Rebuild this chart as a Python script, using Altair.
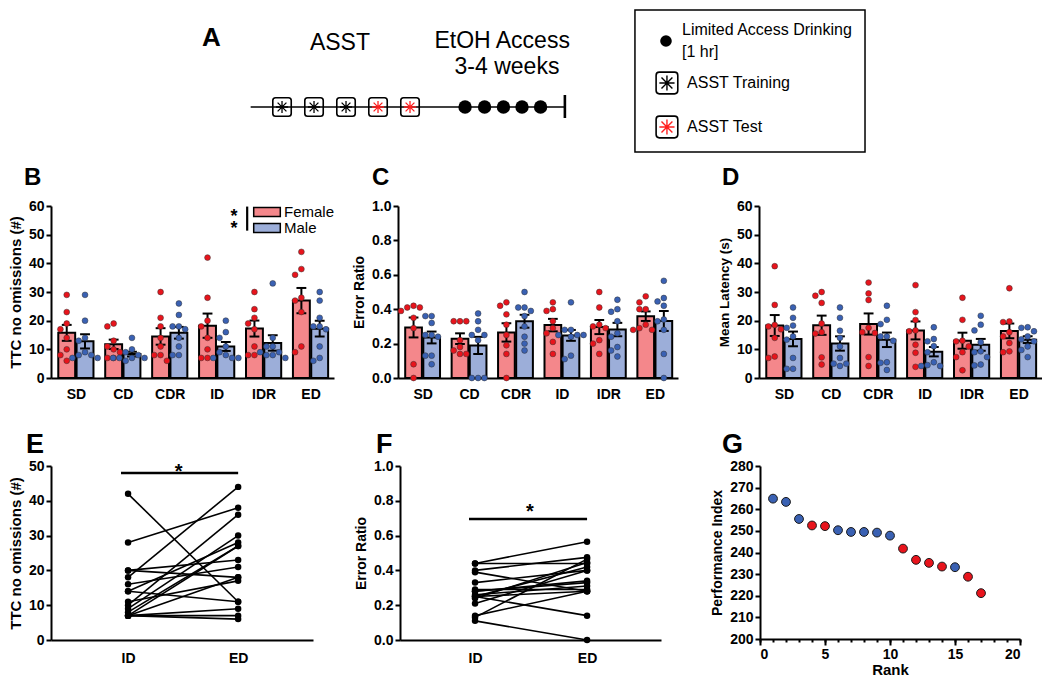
import json
import numpy as np
import pandas as pd
import altair as alt

FONT = "Liberation Sans"
RED_DOT, BLUE_DOT = "#E8141C", "#3A61B3"
RED_BAR, BLUE_BAR = "#F4878B", "#9CAED9"
STAR_RED = "#FF1F1F"

# ---------------- values ----------------
categories = ["SD", "CD", "CDR", "ID", "IDR", "ED"]
sexes = ["Female", "Male"]

# TTC no omissions (#), one list per category (animals in the same order for ID and ED)
ttc_female = [
    [29, 23, 19, 17, 14, 10, 8, 6],
    [19, 18, 13, 11, 10, 9, 7, 7],
    [30, 21, 18, 14, 11, 8, 8, 6],
    [42, 28, 20, 18, 14, 10, 7, 7],
    [30, 24, 21, 19, 17, 11, 8, 8],
    [11, 38, 23, 44, 28, 36, 27, 9],
]
ttc_male = [
    [29, 20, 14, 13, 9, 8, 8, 7, 7],
    [14, 10, 9, 8, 7, 7, 7, 7, 6],
    [26, 22, 18, 18, 17, 14, 11, 8, 8],
    [20, 16, 14, 11, 9, 8, 7, 7, 7],
    [33, 14, 11, 11, 9, 9, 8, 8, 7],
    [18, 21, 11, 17, 30, 27, 18, 7, 6],
]
# Error ratio
err_female = [
    [0.42, 0.41, 0.41, 0.39, 0.35, 0.29, 0.08, 0.0],
    [0.33, 0.33, 0.33, 0.22, 0.18, 0.16, 0.14, 0.14],
    [0.44, 0.42, 0.37, 0.31, 0.25, 0.19, 0.14, 0.0],
    [0.44, 0.40, 0.39, 0.33, 0.29, 0.26, 0.21, 0.14],
    [0.50, 0.41, 0.31, 0.30, 0.29, 0.22, 0.20, 0.14],
    [0.44, 0.475, 0.28, 0.40, 0.29, 0.31, 0.40, 0.28],
]
err_male = [
    [0.36, 0.36, 0.32, 0.25, 0.25, 0.24, 0.13, 0.13, 0.08],
    [0.375, 0.33, 0.28, 0.25, 0.25, 0.22, 0.0, 0.0, 0.0],
    [0.50, 0.41, 0.41, 0.39, 0.36, 0.30, 0.24, 0.20, 0.16],
    [0.44, 0.28, 0.28, 0.25, 0.25, 0.25, 0.24, 0.13, 0.11],
    [0.455, 0.40, 0.385, 0.33, 0.26, 0.24, 0.18, 0.16, 0.125],
    [0.565, 0.34, 0.33, 0.14, 0.42, 0.28, 0.445, 0.465, 0.0],
]
# Mean latency (s)
lat_female = [
    [39, 25.5, 18.5, 18, 17, 14, 7.5, 7],
    [30, 28.7, 26.2, 19, 16, 15.5, 7.2, 4.7],
    [33.3, 29.5, 27.2, 17.5, 16, 15.7, 7.3, 4.2],
    [32.4, 23, 20.2, 16.6, 16.3, 11.6, 8.8, 3.9],
    [28, 20.3, 13, 12.8, 11, 9, 7.3, 2.7],
    [31.3, 19.7, 19.5, 16, 14.5, 12.2, 9.3, 9],
]
lat_male = [
    [24.6, 21, 18.3, 17.5, 14.5, 13.4, 7, 3.2, 3.2],
    [24.6, 21, 16.5, 14, 11, 7, 5, 5, 4.2],
    [25.2, 20.3, 18.8, 14.5, 14.5, 13, 5.5, 5.3, 2.8],
    [17.7, 13.6, 12.8, 11.1, 9, 5.5, 4.5, 4.2, 4.2],
    [21.7, 18.6, 16.6, 12.5, 9.3, 9, 7.3, 4.7, 4.4],
    [17.7, 17.5, 16.3, 14.5, 13.5, 12.8, 11, 9.8, 7.3],
]
stages = ["ID", "ED"]

rank = list(range(1, 18))
perf_index = [264.9, 263.4, 255.5, 252.5, 252.2, 250.3, 249.5, 249.5, 249.2,
              247.8, 241.8, 236.6, 235.2, 233.5, 233.2, 228.8, 221.2]
rank_sex = ["Male", "Male", "Male", "Female", "Female", "Male", "Male", "Male",
            "Male", "Male", "Female", "Female", "Female", "Female", "Male",
            "Female", "Female"]

asst_sessions = ["Training", "Training", "Training", "Test", "Test"]
drinking_sessions = ["Drinking"] * 5
legend_lines = ["Limited Access Drinking", "[1 hr]", "ASST Training", "ASST Test"]

# ---------------- layout / style constants ----------------
BAR_OFF, BAR_HALF, CAP_HALF = 0.195, 0.18, 0.105
XDOM_BAR = [-0.53, 5.5]
DOT_D = 6.3
DOT_SIZE = 34


def letter_layer(letter, size, dx, dy):
    return alt.Chart(pd.DataFrame({"t": [letter]})).mark_text(
        fontSize=size, fontWeight="bold", font=FONT, color="black", align="left",
        baseline="alphabetic").encode(x=alt.value(dx), y=alt.value(dy), text="t:N")


def beeswarm(vals, ppx, ppy, d):
    vals = list(vals)
    order = sorted(range(len(vals)), key=lambda i: -vals[i])
    placed, out = [], [0.0] * len(vals)
    for i in order:
        yp = vals[i] * ppy
        xp = 0.0
        for k in (0, -1, 1, -2, 2, -3, 3):
            xp = k * d
            if all((xp - a) ** 2 + (yp - b) ** 2 >= (d * 0.98) ** 2 for a, b in placed):
                break
        placed.append((xp, yp))
        out[i] = xp / ppx
    return out


def bar_panel(fem, mal, ytitle, ydom, yvals, yfmt, letter, dx, width, height,
              title_size=15, legend=None, sig=None):
    ppx = width / (XDOM_BAR[1] - XDOM_BAR[0])
    ppy = height / (ydom[1] - ydom[0])
    bars, dots = [], []
    for ci in range(len(categories)):
        for sex, groups, off in (("Female", fem, -BAR_OFF), ("Male", mal, BAR_OFF)):
            v = np.asarray(groups[ci], float)
            m = float(v.mean())
            se = float(v.std(ddof=1) / np.sqrt(len(v)))
            xc = ci + off
            bars.append(dict(sex=sex, xc=xc, x1=xc - BAR_HALF, x2=xc + BAR_HALF,
                             c1=xc - CAP_HALF, c2=xc + CAP_HALF, mean=m,
                             lo=m - se, hi=m + se, base=0.0))
            for val, o in zip(v, beeswarm(v, ppx, ppy, DOT_D)):
                dots.append(dict(sex=sex, x=xc + o, val=float(val)))
    bdf, ddf = pd.DataFrame(bars), pd.DataFrame(dots)
    sx = alt.Scale(domain=XDOM_BAR, nice=False, zero=False)
    sy = alt.Scale(domain=ydom, nice=False, zero=False)
    xax = alt.Axis(values=list(range(len(categories))),
                   labelExpr=json.dumps(categories) + "[datum.value]",
                   ticks=False, title=None, labelPadding=9)
    yax = alt.Axis(values=yvals, format=yfmt, title=ytitle, titleFontSize=title_size)
    X = lambda f: alt.X(f, scale=sx, axis=xax)
    Y = lambda f: alt.Y(f, scale=sy, axis=yax)
    fill_kw = dict(scale=alt.Scale(domain=sexes, range=[RED_BAR, BLUE_BAR]))
    fill = alt.Fill("sex:N", legend=legend, **fill_kw) if legend is not None else \
        alt.Fill("sex:N", legend=None, **fill_kw)
    bar = alt.Chart(bdf).mark_bar(stroke="black", strokeWidth=2).encode(
        x=X("x1:Q"), x2="x2:Q", y=Y("mean:Q"), y2="base:Q", fill=fill)
    err = alt.Chart(bdf).mark_rule(color="black", strokeWidth=2).encode(
        x=X("xc:Q"), y=Y("lo:Q"), y2="hi:Q")
    cap_hi = alt.Chart(bdf).mark_rule(color="black", strokeWidth=2).encode(
        x=X("c1:Q"), x2="c2:Q", y=Y("hi:Q"))
    cap_lo = alt.Chart(bdf).mark_rule(color="black", strokeWidth=2).encode(
        x=X("c1:Q"), x2="c2:Q", y=Y("lo:Q"))
    dot = alt.Chart(ddf).mark_circle(size=DOT_SIZE, stroke="#333333",
                                     strokeWidth=0.5, opacity=1).encode(
        x=X("x:Q"), y=Y("val:Q"),
        color=alt.Color("sex:N", scale=alt.Scale(domain=sexes, range=[RED_DOT, BLUE_DOT]),
                        legend=None))
    layers = [bar, err, cap_hi, cap_lo, dot]
    if sig is not None:
        sdf = pd.DataFrame({"x": [sig["star_x"]], "y": [sig["star_y"]], "t": [sig["text"]]})
        layers.append(alt.Chart(sdf).mark_text(fontSize=18, fontWeight="bold", font=FONT,
                                               color="black", baseline="middle", dy=-2,
                                               lineBreak="\n", lineHeight=11.5).encode(
            x=X("x:Q"), y=Y("y:Q"), text="t:N"))
        rdf = pd.DataFrame({"x": [sig["bar_x"]], "y": [sig["bar_y"][0]], "y2": [sig["bar_y"][1]]})
        layers.append(alt.Chart(rdf).mark_rule(color="black", strokeWidth=2.2).encode(
            x=X("x:Q"), y=Y("y:Q"), y2="y2:Q"))
    layers.append(letter_layer(letter, 24, dx, -21))
    return alt.layer(*layers).properties(width=width, height=height)


def pair_panel(first, second, ytitle, ydom, yvals, yfmt, letter, dx, width, height,
               xdom, sig_x, sig_y, star_x, star_y, title_size=15):
    rows = []
    for i, (a, b) in enumerate(zip(first, second)):
        rows.append(dict(animal=i, stage=0, val=float(a)))
        rows.append(dict(animal=i, stage=1, val=float(b)))
    df = pd.DataFrame(rows)
    sx = alt.Scale(domain=xdom, nice=False, zero=False)
    sy = alt.Scale(domain=ydom, nice=False, zero=False)
    xax = alt.Axis(values=[0, 1], labelExpr=json.dumps(stages) + "[datum.value]",
                   ticks=False, title=None, labelPadding=11)
    yax = alt.Axis(values=yvals, format=yfmt, title=ytitle, titleFontSize=title_size)
    X = lambda f: alt.X(f, scale=sx, axis=xax)
    Y = lambda f: alt.Y(f, scale=sy, axis=yax)
    lines = alt.Chart(df).mark_line(color="black", strokeWidth=1.6).encode(
        x=X("stage:Q"), y=Y("val:Q"), detail="animal:N")
    pts = alt.Chart(df).mark_circle(size=42, color="black", opacity=1).encode(
        x=X("stage:Q"), y=Y("val:Q"))
    rdf = pd.DataFrame({"x": [sig_x[0]], "x2": [sig_x[1]], "y": [sig_y]})
    rule = alt.Chart(rdf).mark_rule(color="black", strokeWidth=2.6).encode(
        x=X("x:Q"), x2="x2:Q", y=Y("y:Q"))
    tdf = pd.DataFrame({"x": [star_x], "y": [star_y], "t": ["*"]})
    star = alt.Chart(tdf).mark_text(fontSize=20, fontWeight="bold", font=FONT,
                                    color="black", baseline="middle", dy=5).encode(
        x=X("x:Q"), y=Y("y:Q"), text="t:N")
    return alt.layer(lines, pts, rule, star, letter_layer(letter, 27, dx, -13)).properties(
        width=width, height=height)


# ---------------- panel A (schematic) ----------------
SX = alt.Scale(domain=[-6.22, 24.72], nice=False, zero=False)
SY = alt.Scale(domain=[0, 150], reverse=True, nice=False, zero=False)
TL_Y = 99
ROUND_BOX = ("M-0.7,-1L0.7,-1Q1,-1 1,-0.7L1,0.7Q1,1 0.7,1L-0.7,1Q-1,1 -1,0.7"
             "L-1,-0.7Q-1,-1 -0.7,-1Z")
ASTER = "M0,-1L0,1M-1,0L1,0M-0.72,-0.72L0.72,0.72M-0.72,0.72L0.72,-0.72"
kind_color = alt.Scale(domain=["Training", "Test"], range=["black", STAR_RED])

AX = lambda f: alt.X(f, scale=SX, axis=None)
AY = lambda f: alt.Y(f, scale=SY, axis=None)

asst_df = pd.DataFrame({"x": [1, 2, 3, 4, 5], "y": [TL_Y] * 5, "kind": asst_sessions})
drink_df = pd.DataFrame({"x": [6.72, 7.33, 7.92, 8.5, 9.08], "y": [TL_Y] * 5,
                         "kind": drinking_sessions})
tl = alt.Chart(pd.DataFrame({"x": [0.02], "x2": [9.84], "y": [TL_Y]})).mark_rule(
    color="black", strokeWidth=1.5).encode(x=AX("x:Q"), x2="x2:Q", y=AY("y:Q"))
tl_end = alt.Chart(pd.DataFrame({"x": [9.84], "y": [87], "y2": [110]})).mark_rule(
    color="black", strokeWidth=2.6).encode(x=AX("x:Q"), y=AY("y:Q"), y2="y2:Q")
boxes = alt.Chart(asst_df).mark_point(shape=ROUND_BOX, size=340, filled=False,
                                      color="black", strokeWidth=1.6, opacity=1).encode(
    x=AX("x:Q"), y=AY("y:Q"))
stars = alt.Chart(asst_df).mark_point(shape=ASTER, size=150, filled=False,
                                      strokeWidth=1.3, opacity=1).encode(
    x=AX("x:Q"), y=AY("y:Q"), color=alt.Color("kind:N", scale=kind_color, legend=None))
drinks = alt.Chart(drink_df).mark_circle(size=180, color="black", opacity=1).encode(
    x=AX("x:Q"), y=AY("y:Q"))

head_df = pd.DataFrame({"x": [2.81, 7.88, 8.03], "y": [35, 33, 59],
                        "t": ["ASST", "EtOH Access", "3-4 weeks"]})
heads = alt.Chart(head_df).mark_text(fontSize=23, font=FONT, color="black",
                                     baseline="middle", align="center").encode(
    x=AX("x:Q"), y=AY("y:Q"), text="t:N")
a_letter = alt.Chart(pd.DataFrame({"x": [-1.5], "y": [30], "t": ["A"]})).mark_text(
    fontSize=26, fontWeight="bold", font=FONT, color="black", baseline="middle",
    align="left").encode(x=AX("x:Q"), y=AY("y:Q"), text="t:N")

leg_box = alt.Chart(pd.DataFrame({"x": [12.03], "x2": [19.22], "y": [2], "y2": [144]})).mark_rect(
    fillOpacity=0, stroke="black", strokeWidth=1.5).encode(
    x=AX("x:Q"), x2="x2:Q", y=AY("y:Q"), y2="y2:Q")
leg_dot = alt.Chart(pd.DataFrame({"x": [13.0], "y": [33]})).mark_circle(
    size=135, color="black", opacity=1).encode(x=AX("x:Q"), y=AY("y:Q"))
leg_icon_df = pd.DataFrame({"x": [13.03, 13.03], "y": [75, 119], "kind": ["Training", "Test"]})
leg_boxes = alt.Chart(leg_icon_df).mark_point(shape=ROUND_BOX, size=470, filled=False,
                                              color="black", strokeWidth=1.6, opacity=1).encode(
    x=AX("x:Q"), y=AY("y:Q"))
leg_stars = alt.Chart(leg_icon_df).mark_point(shape=ASTER, size=230, filled=False,
                                              strokeWidth=1.4, opacity=1).encode(
    x=AX("x:Q"), y=AY("y:Q"), color=alt.Color("kind:N", scale=kind_color, legend=None))
leg_text_df = pd.DataFrame({"x": [13.5, 13.5, 13.66, 13.66], "y": [22, 44, 75, 119],
                            "t": legend_lines})
leg_text = alt.Chart(leg_text_df).mark_text(fontSize=16, font=FONT, color="black",
                                            baseline="middle", align="left").encode(
    x=AX("x:Q"), y=AY("y:Q"), text="t:N")

panel_a = alt.layer(tl, tl_end, boxes, stars, drinks, heads, a_letter, leg_box, leg_dot,
                    leg_boxes, leg_stars, leg_text).properties(width=990, height=150)

# ---------------- panels B, C, D ----------------
legend_b = alt.Legend(title=None, orient="none", legendX=208, legendY=-2,
                      direction="vertical", symbolType="M-1.9,-0.65H1.9V0.65H-1.9Z",
                      symbolSize=196, symbolStrokeColor="black", symbolStrokeWidth=1.5,
                      symbolOpacity=1, labelFontSize=15, labelFontWeight="normal",
                      labelFont=FONT, labelColor="black", labelOffset=9, rowPadding=0)
panel_b = bar_panel(ttc_female, ttc_male, "TTC no omissions (#)", [0, 60],
                    list(range(0, 61, 10)), "d", "B", -27, 283, 172, title_size=15,
                    legend=legend_b,
                    sig=dict(star_x=3.37, star_y=55.45, text="*\n*", bar_x=3.65,
                             bar_y=[51.4, 59.8]))
panel_c = bar_panel(err_female, err_male, "Error Ratio", [0, 1],
                    [0, 0.2, 0.4, 0.6, 0.8, 1.0], ".1f", "C", -26, 280, 172, title_size=14)
panel_d = bar_panel(lat_female, lat_male, "Mean Latency (s)", [0, 60],
                    list(range(0, 61, 10)), "d", "D", -37, 283, 172, title_size=13.5)

# ---------------- panels E, F ----------------
panel_e = pair_panel(ttc_female[3] + ttc_male[3], ttc_female[5] + ttc_male[5],
                     "TTC no omissions (#)", [0, 50], list(range(0, 51, 10)), "d",
                     "E", -25, 262, 174, [-0.7, 1.68], [-0.064, 1.0], 48, 0.46, 49.8,
                     title_size=15)
panel_f = pair_panel(err_female[3] + err_male[3], err_female[5] + err_male[5],
                     "Error Ratio", [0, 1], [0, 0.2, 0.4, 0.6, 0.8, 1.0], ".1f",
                     "F", -24, 261, 174, [-0.67, 1.66], [-0.054, 1.0], 0.695, 0.49, 0.764,
                     title_size=14)

# ---------------- panel G ----------------
g_df = pd.DataFrame({"rank": rank, "pi": perf_index, "sex": rank_sex})
gsx = alt.Scale(domain=[0, 20], nice=False, zero=False)
gsy = alt.Scale(domain=[200, 280], nice=False, zero=False)
gyax = alt.Axis(values=list(range(200, 281, 10)), title="Performance Index",
                titleFontSize=14)
g_pts = alt.Chart(g_df).mark_circle(size=78, stroke="#1a1a1a", strokeWidth=1, opacity=1).encode(
    x=alt.X("rank:Q", scale=gsx, axis=alt.Axis(values=[0, 5, 10, 15, 20], title="Rank",
                                              tickSize=6, titlePadding=1, orient="bottom")),
    y=alt.Y("pi:Q", scale=gsy, axis=gyax),
    color=alt.Color("sex:N", scale=alt.Scale(domain=sexes, range=[RED_DOT, BLUE_DOT]),
                    legend=None))
g_minor = alt.Chart(g_df).mark_point(opacity=0).encode(
    x=alt.X("rank:Q", scale=gsx, axis=alt.Axis(values=list(range(21)), labels=False,
                                              title=None, domain=False, tickSize=3,
                                              orient="bottom")),
    y=alt.Y("pi:Q", scale=gsy, axis=gyax))
panel_g = alt.layer(g_pts, g_minor, letter_layer("G", 27, -38, -13)).resolve_axis(
    x="independent").properties(width=260, height=173)

# ---------------- assemble ----------------
row2 = alt.hconcat(
    alt.hconcat(panel_b, panel_c, spacing=17).resolve_scale(fill="independent", color="independent"),
    panel_d, spacing=39).resolve_scale(fill="independent", color="independent")
row3 = alt.hconcat(
    alt.hconcat(panel_e, panel_f, spacing=41).resolve_scale(color="independent"),
    panel_g, spacing=49).resolve_scale(color="independent")

chart = alt.vconcat(
    panel_a,
    alt.vconcat(row2, row3, spacing=30).resolve_scale(fill="independent", color="independent"),
    spacing=8,
).resolve_scale(fill="independent", color="independent").properties(
    padding=0
).configure(font=FONT).configure_axis(
    labelFont=FONT, titleFont=FONT, labelFontSize=14, labelFontWeight="bold",
    titleFontSize=15, titleFontWeight="bold", labelColor="black", titleColor="black",
    domainColor="black", domainWidth=2, tickColor="black", tickWidth=2, tickSize=5,
    grid=False, labelPadding=2, titlePadding=5,
).configure_view(stroke=None).configure_title(font=FONT, color="black")

chart.save("out.html", embed_options={"renderer": "svg", "actions": False})
